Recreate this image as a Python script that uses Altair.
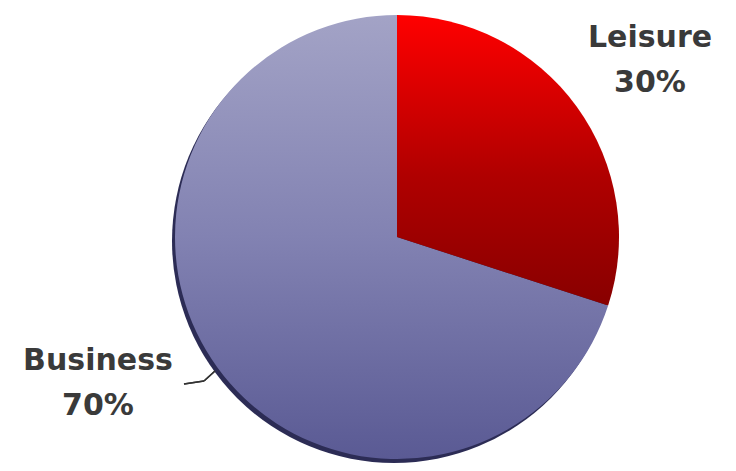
import altair as alt
import pandas as pd

categories = ["Leisure", "Business"]
shares = [30, 70]
order = [0, 1]

df = pd.DataFrame({"category": categories, "share": shares, "order": order})

CX, CY, R = 389, 229, 222
theta_scale = alt.Scale(domain=[0, 100], range=[0, 6.283185307179586])

red_grad = {
    "gradient": "linear", "x1": 0, "y1": 0, "x2": 0, "y2": 1,
    "stops": [
        {"offset": 0, "color": "#ff0000"},
        {"offset": 0.55, "color": "#b00000"},
        {"offset": 1, "color": "#880000"},
    ],
}
blue_grad = {
    "gradient": "linear", "x1": 0, "y1": 0, "x2": 0, "y2": 1,
    "stops": [
        {"offset": 0, "color": "#a3a3c6"},
        {"offset": 0.5, "color": "#8282b2"},
        {"offset": 1, "color": "#5a5a94"},
    ],
}

base = (
    alt.Chart(df)
    .transform_window(end="sum(share)", sort=[alt.SortField("order")])
    .transform_calculate(start="datum.end - datum.share")
)

shadow = (
    alt.Chart(df)
    .transform_aggregate(total="sum(share)")
    .mark_arc(radius=R, fill="#2c2c55")
    .encode(theta=alt.Theta("total:Q", scale=theta_scale),
            x=alt.value(CX - 3), y=alt.value(CY + 4))
)

leisure = (
    base.transform_filter("datum.category == 'Leisure'")
    .mark_arc(radius=R, fill=red_grad)
    .encode(theta=alt.Theta("start:Q", scale=theta_scale), theta2="end:Q",
            x=alt.value(CX), y=alt.value(CY))
)

business = (
    base.transform_filter("datum.category == 'Business'")
    .mark_arc(radius=R, fill=blue_grad)
    .encode(theta=alt.Theta("start:Q", scale=theta_scale), theta2="end:Q",
            x=alt.value(CX), y=alt.value(CY))
)

text_style = dict(font="DejaVu Sans", fontWeight="bold", fontSize=30, color="#3a3a3a",
                  lineBreak="\n", lineHeight=45, baseline="alphabetic", align="center")

label_leisure = (
    base.transform_filter("datum.category == 'Leisure'")
    .transform_calculate(label="datum.category + '\\n' + datum.share + '%'")
    .mark_text(**text_style)
    .encode(text="label:N", x=alt.value(642), y=alt.value(39))
)

label_business = (
    base.transform_filter("datum.category == 'Business'")
    .transform_calculate(label="datum.category + '\\n' + datum.share + '%'")
    .mark_text(**text_style)
    .encode(text="label:N", x=alt.value(90), y=alt.value(362))
)

leader1 = alt.Chart(df).mark_rule(color="#333333", strokeWidth=1.5).encode(
    x=alt.value(176), y=alt.value(376), x2=alt.value(196), y2=alt.value(373))
leader2 = alt.Chart(df).mark_rule(color="#333333", strokeWidth=1.5).encode(
    x=alt.value(196), y=alt.value(373), x2=alt.value(207), y2=alt.value(363))

chart = (
    alt.layer(shadow, business, leisure, leader1, leader2, label_leisure, label_business)
    .properties(width=720, height=455, padding=0, autosize="none",
                view=alt.ViewBackground(stroke="transparent", strokeWidth=0))
    .configure_view(stroke="transparent", strokeWidth=0)
    .configure(background="white",
               style={"cell": {"stroke": "transparent", "strokeWidth": 0}})
)

chart.save("out.html", embed_options={"renderer": "svg", "actions": False})
